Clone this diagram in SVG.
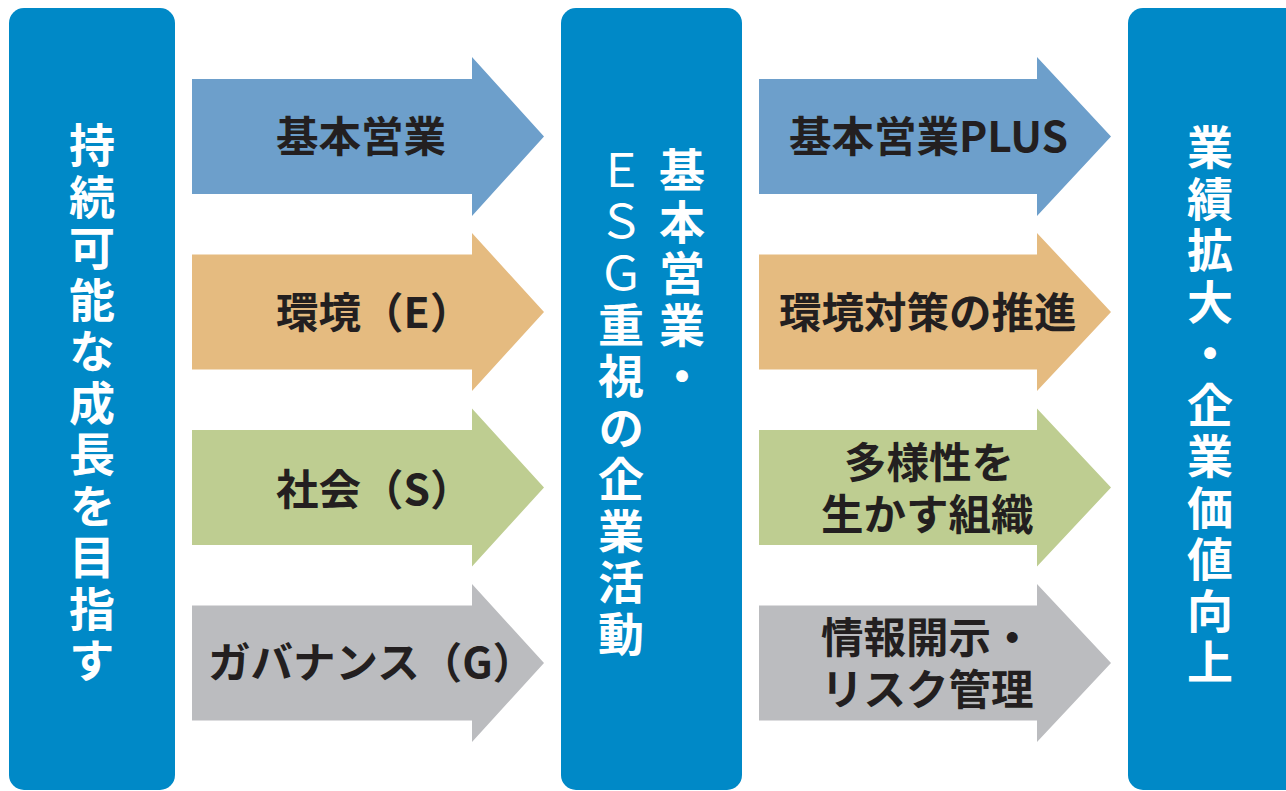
<svg xmlns="http://www.w3.org/2000/svg" width="1286" height="791" viewBox="0 0 1286 791">
<style>
.box{fill:#0089C7}
.vt{font-family:"Noto Sans CJK JP","Noto Sans",sans-serif;font-weight:700;font-size:46px;fill:#ffffff;writing-mode:vertical-rl;letter-spacing:5.5px}
.thin{font-weight:400}
.lb{font-family:"Noto Sans CJK JP","Noto Sans",sans-serif;font-weight:700;font-size:42.5px;fill:#231F20}
.blue{fill:#6D9FCB}.orange{fill:#E5BB80}.green{fill:#BECD91}.gray{fill:#BBBCBF}
</style>
<rect width="1286" height="791" fill="#ffffff"/>
<g id="node-left">
<rect class="box" x="9" y="8" width="166" height="782" rx="15"/>
<text class="vt" x="92" y="122">持続可能な成長を目指す</text>
</g>
<g id="node-middle">
<rect class="box" x="561" y="8" width="181" height="782" rx="15"/>
<text class="vt" x="682" y="147">基本営業・</text>
<text class="vt" x="621" y="147"><tspan class="thin">ＥＳＧ</tspan>重視の企業活動</text>
</g>
<g id="node-right">
<rect class="box" x="1128" y="8" width="180" height="782" rx="15"/>
<text class="vt" x="1210" y="124">業績拡大・企業価値向上</text>
</g>
<g id="connectors">
<g id="arrow-kihon">
<path class="blue" d="M192,79H472V57L544,136.5L472,216V194H192Z"/>
<text class="lb" x="276" y="152">基本営業</text>
</g>
<g id="arrow-env">
<path class="orange" d="M192,254.5H472V233L544,312L472,391V369.5H192Z"/>
<text class="lb" x="276" y="328">環境（E）</text>
</g>
<g id="arrow-soc">
<path class="green" d="M192,430H472V408.5L544,487.5L472,566.5V545H192Z"/>
<text class="lb" x="276" y="505">社会（S）</text>
</g>
<g id="arrow-gov">
<path class="gray" d="M192,605.5H472V584L544,663L472,742V720.5H192Z"/>
<text class="lb" x="208" y="678">ガバナンス（G）</text>
</g>
<g id="arrow-plus">
<path class="blue" d="M759,79H1037V57L1111,136.5L1037,216V194H759Z"/>
<text class="lb" x="789" y="152">基本営業PLUS</text>
</g>
<g id="arrow-env2">
<path class="orange" d="M759,254.5H1037V233L1111,312L1037,391V369.5H759Z"/>
<text class="lb" x="779" y="328">環境対策の推進</text>
</g>
<g id="arrow-div">
<path class="green" d="M759,430H1037V408.5L1111,487.5L1037,566.5V545H759Z"/>
<text class="lb"><tspan x="844" y="478">多様性を</tspan><tspan x="821" y="530">生かす組織</tspan></text>
</g>
<g id="arrow-risk">
<path class="gray" d="M759,605.5H1037V584L1111,663L1037,742V720.5H759Z"/>
<text class="lb"><tspan x="821" y="653">情報開示・</tspan><tspan x="821" y="705">リスク管理</tspan></text>
</g>
</g>
</svg>
